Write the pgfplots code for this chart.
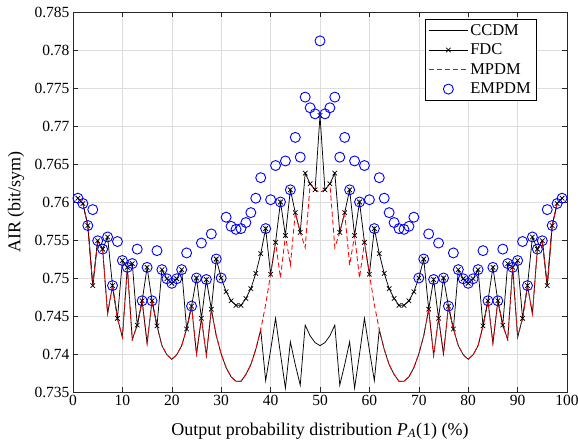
\documentclass[border=0pt]{standalone}
\usepackage{fontspec}
\setmainfont{Liberation Serif}
\usepackage{pgfplots}
\usepackage{pgfplotstable}
\pgfplotsset{compat=1.18}
\definecolor{mblue}{rgb}{0,0,1}
\definecolor{mred}{rgb}{1,0,0}
\definecolor{axgray}{rgb}{0.15,0.15,0.15}

\pgfplotstableread{
x C F M E
1 0.7605 0.7605 0.7605 0.7605
2 0.7598 0.7598 0.7598 0.7598
3 0.7569 0.7569 0.7569 0.7569
4 0.7490 0.7490 0.7490 0.7590
5 0.7549 0.7549 0.7549 0.7549
6 0.7538 0.7538 0.7538 0.7538
7 0.7453 0.7554 0.7453 0.7554
8 0.7490 0.7490 0.7490 0.7490
9 0.7447 0.7447 0.7447 0.7548
10 0.7422 0.7523 0.7422 0.7523
11 0.7514 0.7514 0.7514 0.7514
12 0.7419 0.7519 0.7419 0.7519
13 0.7438 0.7438 0.7438 0.7538
14 0.7470 0.7470 0.7470 0.7470
15 0.7414 0.7514 0.7414 0.7514
16 0.7470 0.7470 0.7470 0.7470
17 0.7437 0.7437 0.7437 0.7536
18 0.7411 0.7511 0.7411 0.7511
19 0.7399 0.7499 0.7399 0.7499
20 0.7393 0.7493 0.7393 0.7493
21 0.7399 0.7499 0.7399 0.7499
22 0.7411 0.7511 0.7411 0.7511
23 0.7433 0.7433 0.7433 0.7533
24 0.7463 0.7463 0.7463 0.7463
25 0.7400 0.7500 0.7400 0.7500
26 0.7447 0.7447 0.7447 0.7546
27 0.7398 0.7498 0.7398 0.7498
28 0.7459 0.7459 0.7459 0.7558
29 0.7424 0.7525 0.7424 0.7525
30 0.7400 0.7500 0.7400 0.7500
31 0.7382 0.7482 0.7382 0.7580
32 0.7370 0.7470 0.7370 0.7568
33 0.7364 0.7464 0.7364 0.7564
34 0.7364 0.7464 0.7364 0.7565
35 0.7373 0.7473 0.7373 0.7573
36 0.7386 0.7486 0.7386 0.7586
37 0.7406 0.7506 0.7406 0.7605
38 0.7432 0.7532 0.7432 0.7632
39 0.7365 0.7565 0.7465 0.7565
40 0.7405 0.7505 0.7505 0.7603
41 0.7447 0.7547 0.7547 0.7648
42 0.7400 0.7600 0.7500 0.7600
43 0.7355 0.7556 0.7556 0.7654
44 0.7416 0.7616 0.7517 0.7616
45 0.7386 0.7586 0.7586 0.7685
46 0.7359 0.7560 0.7560 0.7659
47 0.7438 0.7638 0.7540 0.7738
48 0.7424 0.7624 0.7624 0.7724
49 0.7415 0.7616 0.7616 0.7716
50 0.7411 0.7714 0.7613 0.7812
51 0.7415 0.7616 0.7616 0.7716
52 0.7424 0.7624 0.7624 0.7724
53 0.7438 0.7638 0.7540 0.7738
54 0.7359 0.7560 0.7560 0.7659
55 0.7386 0.7586 0.7586 0.7685
56 0.7416 0.7616 0.7517 0.7616
57 0.7355 0.7556 0.7556 0.7654
58 0.7400 0.7600 0.7500 0.7600
59 0.7447 0.7547 0.7547 0.7648
60 0.7405 0.7505 0.7505 0.7603
61 0.7365 0.7565 0.7465 0.7565
62 0.7432 0.7532 0.7432 0.7632
63 0.7406 0.7506 0.7406 0.7605
64 0.7386 0.7486 0.7386 0.7586
65 0.7373 0.7473 0.7373 0.7573
66 0.7364 0.7464 0.7364 0.7565
67 0.7364 0.7464 0.7364 0.7564
68 0.7370 0.7470 0.7370 0.7568
69 0.7382 0.7482 0.7382 0.7580
70 0.7400 0.7500 0.7400 0.7500
71 0.7424 0.7525 0.7424 0.7525
72 0.7459 0.7459 0.7459 0.7558
73 0.7398 0.7498 0.7398 0.7498
74 0.7447 0.7447 0.7447 0.7546
75 0.7400 0.7500 0.7400 0.7500
76 0.7463 0.7463 0.7463 0.7463
77 0.7433 0.7433 0.7433 0.7533
78 0.7411 0.7511 0.7411 0.7511
79 0.7399 0.7499 0.7399 0.7499
80 0.7393 0.7493 0.7393 0.7493
81 0.7399 0.7499 0.7399 0.7499
82 0.7411 0.7511 0.7411 0.7511
83 0.7437 0.7437 0.7437 0.7536
84 0.7470 0.7470 0.7470 0.7470
85 0.7414 0.7514 0.7414 0.7514
86 0.7470 0.7470 0.7470 0.7470
87 0.7438 0.7438 0.7438 0.7538
88 0.7419 0.7519 0.7419 0.7519
89 0.7514 0.7514 0.7514 0.7514
90 0.7422 0.7523 0.7422 0.7523
91 0.7447 0.7447 0.7447 0.7548
92 0.7490 0.7490 0.7490 0.7490
93 0.7453 0.7554 0.7453 0.7554
94 0.7538 0.7538 0.7538 0.7538
95 0.7549 0.7549 0.7549 0.7549
96 0.7490 0.7490 0.7490 0.7590
97 0.7569 0.7569 0.7569 0.7569
98 0.7598 0.7598 0.7598 0.7598
99 0.7605 0.7605 0.7605 0.7605
}\data

\begin{document}
\begin{tikzpicture}
\begin{axis}[
  scale only axis,
  width=494pt, height=380pt,
  xmin=0, xmax=100, ymin=0.735, ymax=0.785,
  xtick={0,10,20,30,40,50,60,70,80,90,100},
  ytick={0.735,0.74,0.745,0.75,0.755,0.76,0.765,0.77,0.775,0.78,0.785},
  yticklabels={0.735,0.74,0.745,0.75,0.755,0.76,0.765,0.77,0.775,0.78,0.785},
  /pgf/number format/assume math mode=true,
  scaled y ticks=false,
  tick align=inside,
  major tick length=5pt,
  tick style={axgray, line width=0.6pt},
  axis line style={axgray, line width=0.6pt},
  grid=major,
  major grid style={line width=0.5pt, black!13},
  ticklabel style={font=\fontsize{15.5}{18}\selectfont},
  label style={font=\fontsize{18}{21}\selectfont},
  xlabel={Output probability distribution \textit{P}\textsubscript{\textit{A}}(1) (\%)},
  ylabel={AIR (bit/sym)},
  xlabel style={at={(axis description cs:0.5,-0.1026)}, anchor=center},
  ylabel style={at={(axis description cs:-0.115,0.5)}, anchor=center},
  legend style={at={(1,1)}, anchor=north east, xshift=-31pt, yshift=-7pt,
    fill=white,
    font=\fontsize{16.5}{18}\selectfont,
    inner xsep=3pt, inner ysep=3pt, row sep=3.2pt,
    cells={anchor=west}},
  legend image code/.code={\draw[mark repeat=2,mark phase=2,#1] plot coordinates {(0pt,0pt) (19.5pt,0pt) (39pt,0pt)};},
]
\addplot[black, line width=0.75pt] table[x=x,y=C]{\data};
\addlegendentry{CCDM}
\addplot[black, line width=0.75pt, mark=x, mark size=3.2pt, mark options={solid}] table[x=x,y=F]{\data};
\addlegendentry{FDC}
\addplot[mred, line width=0.85pt, dash pattern=on 5pt off 3pt] table[x=x,y=M]{\data};
\addlegendentry{MPDM}
\addplot[mblue, only marks, mark=o, mark size=5pt, line width=0.9pt] table[x=x,y=E]{\data};
\addlegendentry{EMPDM}
\end{axis}
\pgfresetboundingbox
\path[use as bounding box] ([shift={(-73pt,-51pt)}]current axis.south west) rectangle ([shift={(11pt,12pt)}]current axis.north east);
\end{tikzpicture}
\end{document}
